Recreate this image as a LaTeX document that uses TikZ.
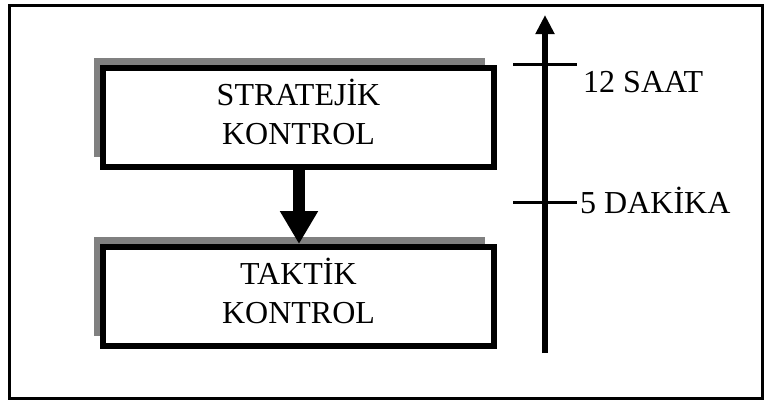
\documentclass[tikz,border=0pt]{standalone}
\usepackage{fontspec}
\setmainfont{Liberation Serif}
\usetikzlibrary{arrows.meta,shadows}
\begin{document}
\begin{tikzpicture}[x=1pt,y=-1pt,
  box/.style={draw=black, line width=6pt, fill=white, minimum width=391pt, minimum height=99pt,
    align=center, inner sep=0pt, text depth=11pt, font=\fontsize{32}{38.5}\selectfont,
    general shadow={fill=black!50, shadow xshift=-9pt, shadow yshift=10pt}},
  lbl/.style={font=\fontsize{32}{38.5}\selectfont, inner sep=0pt, anchor=base west},
  tick/.style={line width=3pt},
  axis/.style={line width=6pt, -{Triangle[width=18pt,length=19pt]}},
  flow/.style={line width=12pt, -{Triangle[width=36pt,length=33pt]}}]
\useasboundingbox (0,0) rectangle (765,402);
\draw[line width=3pt] (9,5) rectangle (762,398);
\node[box] (strat) at (298.5,117.5) {STRATEJİK\\KONTROL};
\node[box] (takt) at (298.5,296.5) {TAKTİK\\KONTROL};
\draw[flow] (strat.south -| 299,0) -- (takt.north -| 299,0);
\coordinate (axb) at (545,353);
\coordinate (axt) at (545,15);
\draw[axis] (axb) -- (axt);
\coordinate (t1a) at (513,64);
\coordinate (t1b) at (577,64);
\coordinate (t2a) at (513,202);
\coordinate (t2b) at (577,202);
\draw[tick] (t1a) -- (t1b);
\draw[tick] (t2a) -- (t2b);
\node[lbl] (saat) at (583,92) {12 SAAT};
\node[lbl] (dak) at (580,213) {5 DAKİKA};
\end{tikzpicture}
\end{document}
